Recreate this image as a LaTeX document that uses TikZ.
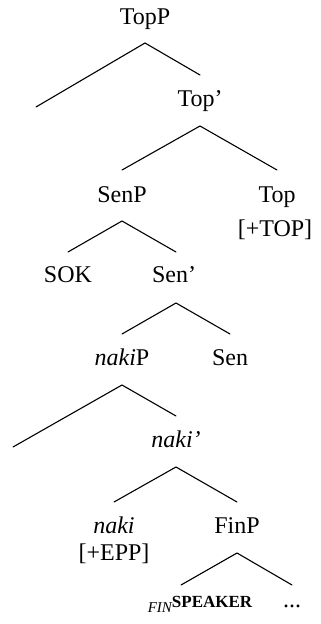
\documentclass[tikz,border=0pt]{standalone}
\usepackage{fontspec}
\setmainfont{Liberation Serif}
% faked small capitals for the feature label
\newcommand{\smallcapsfake}[1]{{\fontsize{8.5}{10}\selectfont\bfseries #1}}
\begin{document}
\begin{tikzpicture}[x=0.5pt,y=-0.5pt,
  lbl/.style={anchor=base, inner sep=0pt, font=\fontsize{12}{14}\selectfont},
  branch/.style={line width=0.55pt, line cap=round}]
\useasboundingbox (0,0) rectangle (320,624);

% labels
\node[lbl] (topp)    at (145,25)  {TopP};
\coordinate (spec1)  at (36,107);
\node[lbl] (topbar)  at (200,107) {Top’};
\node[lbl] (senp)    at (122,203) {SenP};
\node[lbl] (top)     at (277,203) {Top};
\node[lbl] (topfeat) at (275,237) {[+TOP]};
\node[lbl] (sok)     at (68,283)  {SOK};
\node[lbl] (senbar)  at (174,283) {Sen’};
\node[lbl] (nakip)   at (122,365) {\textit{naki}P};
\node[lbl] (sen)     at (230,365) {Sen};
\coordinate (spec2)  at (13,447);
\node[lbl] (nakibar) at (176,447) {\textit{naki’}};
\node[lbl] (naki)    at (114,533) {\textit{naki}};
\node[lbl] (epp)     at (114,560) {[+EPP]};
\node[lbl] (finp)    at (237,533) {FinP};
\node[lbl] (speaker) at (200,607) {\raisebox{-2.5pt}{\fontsize{7.5}{9}\selectfont\itshape FIN}\smallcapsfake{SPEAKER}};
\node[lbl] (dots)    at (292,607) {...};

% branches
\draw[branch] (spec1) -- ([yshift=-9pt]topp.base) -- ([yshift=16pt]topbar.base);
\draw[branch] ([yshift=16.5pt]senp.base) -- ([yshift=-9.5pt]topbar.base) -- ([yshift=16.5pt]top.base);
\draw[branch] ([yshift=15.5pt]sok.base) -- ([yshift=-9pt]senp.base) -- ([xshift=1pt,yshift=15.5pt]senbar.base);
\draw[branch] ([yshift=15.5pt]nakip.base) -- ([xshift=1pt,yshift=-10pt]senbar.base) -- ([yshift=15.5pt]sen.base);
\draw[branch] (spec2) -- ([yshift=-10pt]nakip.base) -- ([yshift=15.5pt]nakibar.base);
\draw[branch] ([yshift=15.5pt]naki.base) -- ([yshift=-10pt]nakibar.base) -- ([yshift=15.5pt]finp.base);
\draw[branch] ([xshift=-9.5pt,yshift=11pt]speaker.base) -- ([yshift=-10pt]finp.base) -- ([yshift=11pt]dots.base);
\end{tikzpicture}
\end{document}
